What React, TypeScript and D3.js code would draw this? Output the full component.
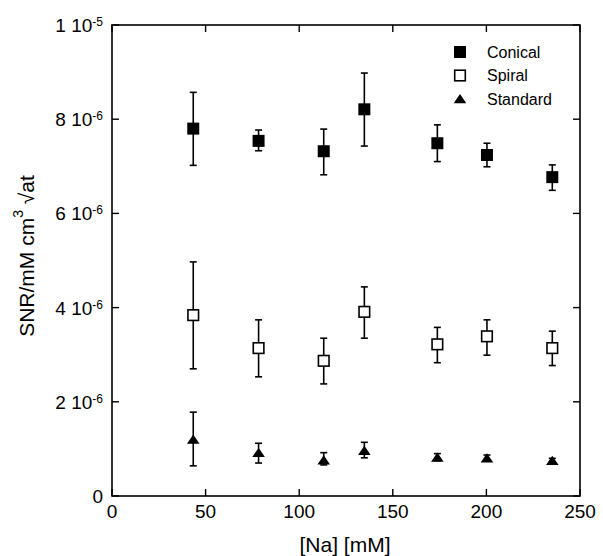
import React from "react";
import * as d3 from "d3";

const na = [43.4, 78.3, 113.1, 134.8, 173.8, 200.3, 235.2];

const conical = [7.8, 7.54, 7.32, 8.21, 7.49, 7.24, 6.77];
const conicalHi = [8.57, 7.77, 7.79, 8.98, 7.88, 7.49, 7.03];
const conicalLo = [7.02, 7.33, 6.82, 7.43, 7.1, 6.99, 6.49];

const spiral = [3.84, 3.14, 2.87, 3.91, 3.22, 3.39, 3.14];
const spiralHi = [4.97, 3.74, 3.35, 4.44, 3.58, 3.74, 3.5];
const spiralLo = [2.7, 2.53, 2.38, 3.35, 2.83, 2.99, 2.77];

const standard = [1.2, 0.92, 0.76, 0.96, 0.82, 0.8, 0.75];
const standardHi = [1.78, 1.12, 0.92, 1.14, 0.9, 0.87, 0.8];
const standardLo = [0.64, 0.7, 0.66, 0.81, 0.75, 0.74, 0.7];

const xTicks = [0, 50, 100, 150, 200, 250];
const yTicks = [0, 2e-6, 4e-6, 6e-6, 8e-6, 1e-5];
const yTickMain = ["0", "2 10", "4 10", "6 10", "8 10", "1 10"];
const yTickSup = ["", "-6", "-6", "-6", "-6", "-5"];

const seriesNames = ["Conical", "Spiral", "Standard"];

const W = 603;
const H = 556;
const L = 112, R = 580, T = 25, B = 496;
const FONT = "'Liberation Sans', Arial, Helvetica, sans-serif";

function Marker({ kind, cx, cy }: { kind: number; cx: number; cy: number }) {
  if (kind === 0) {
    return <rect x={cx - 6} y={cy - 6} width={12} height={12} fill="#000" />;
  }
  if (kind === 1) {
    return (
      <rect x={cx - 5.3} y={cy - 5.3} width={10.6} height={10.6} fill="#fff" stroke="#000" strokeWidth={1.6} />
    );
  }
  const tri = d3.path();
  tri.moveTo(cx, cy - 5);
  tri.lineTo(cx + 6.3, cy + 4.3);
  tri.lineTo(cx - 6.3, cy + 4.3);
  tri.closePath();
  return <path d={tri.toString()} fill="#000" />;
}

export default function App() {
  const x = d3.scaleLinear().domain([0, 250]).range([L, R]);
  const y = d3.scaleLinear().domain([0, 1e-5]).range([B, T]);

  const series = [
    { v: conical, hi: conicalHi, lo: conicalLo },
    { v: spiral, hi: spiralHi, lo: spiralLo },
    { v: standard, hi: standardHi, lo: standardLo },
  ];
  const tickLen = 7;

  return (
    <svg
      width={W}
      height={H}
      style={{ position: "absolute", left: 0, top: 0, background: "#fff" }}
      fontFamily={FONT}
    >
      <rect x={0} y={0} width={W} height={H} fill="#fff" />
      {/* ticks */}
      {xTicks.map((t) => (
        <g key={"xt" + t} stroke="#000" strokeWidth={1.4}>
          <line x1={x(t)} x2={x(t)} y1={B} y2={B - tickLen} />
          <line x1={x(t)} x2={x(t)} y1={T} y2={T + tickLen} />
        </g>
      ))}
      {yTicks.map((t) => (
        <g key={"yt" + t} stroke="#000" strokeWidth={1.4}>
          <line x1={L} x2={L + tickLen} y1={y(t)} y2={y(t)} />
          <line x1={R} x2={R - tickLen} y1={y(t)} y2={y(t)} />
        </g>
      ))}
      <rect x={L} y={T} width={R - L} height={B - T} fill="none" stroke="#000" strokeWidth={1.6} />

      {/* x tick labels */}
      {xTicks.map((t) => (
        <text key={"xl" + t} x={x(t)} y={B + 22} textAnchor="middle" fontSize={19} fill="#000">
          {t}
        </text>
      ))}
      {/* y tick labels */}
      {yTicks.map((t, i) => (
        <text key={"yl" + t} x={103} y={y(t) + 7} textAnchor="end" fontSize={19} fill="#000">
          {yTickMain[i]}
          {yTickSup[i] && (
            <tspan fontSize={12} dy={-6}>
              {yTickSup[i]}
            </tspan>
          )}
        </text>
      ))}

      {/* axis titles */}
      <text x={(L + R) / 2 - 1} y={552} textAnchor="middle" fontSize={21} fill="#000">
        [Na] [mM]
      </text>
      <text
        transform={`translate(34, 256) rotate(-90)`}
        textAnchor="middle"
        fontSize={21}
        fill="#000"
      >
        SNR/mM cm
        <tspan fontSize={14} dy={-11}>3</tspan>
        <tspan dy={11}> √at</tspan>
      </text>

      {/* error bars and markers */}
      {series.map((s, si) => (
        <g key={"s" + si}>
          {na.map((n, i) => (
            <g key={i} stroke="#000" strokeWidth={1.6}>
              <line x1={x(n)} x2={x(n)} y1={y(s.hi[i] * 1e-6)} y2={y(s.lo[i] * 1e-6)} />
              <line x1={x(n) - 3.5} x2={x(n) + 3.5} y1={y(s.hi[i] * 1e-6)} y2={y(s.hi[i] * 1e-6)} />
              <line x1={x(n) - 3.5} x2={x(n) + 3.5} y1={y(s.lo[i] * 1e-6)} y2={y(s.lo[i] * 1e-6)} />
            </g>
          ))}
          {na.map((n, i) => (
            <Marker key={"m" + i} kind={si} cx={x(n)} cy={y(s.v[i] * 1e-6)} />
          ))}
        </g>
      ))}

      {/* legend */}
      {seriesNames.map((name, i) => (
        <g key={"lg" + i}>
          <Marker kind={i} cx={460} cy={52 + i * 23.5} />
          <text x={487} y={52 + i * 23.5 + 5.5} fontSize={16} fill="#000">
            {name}
          </text>
        </g>
      ))}
    </svg>
  );
}
